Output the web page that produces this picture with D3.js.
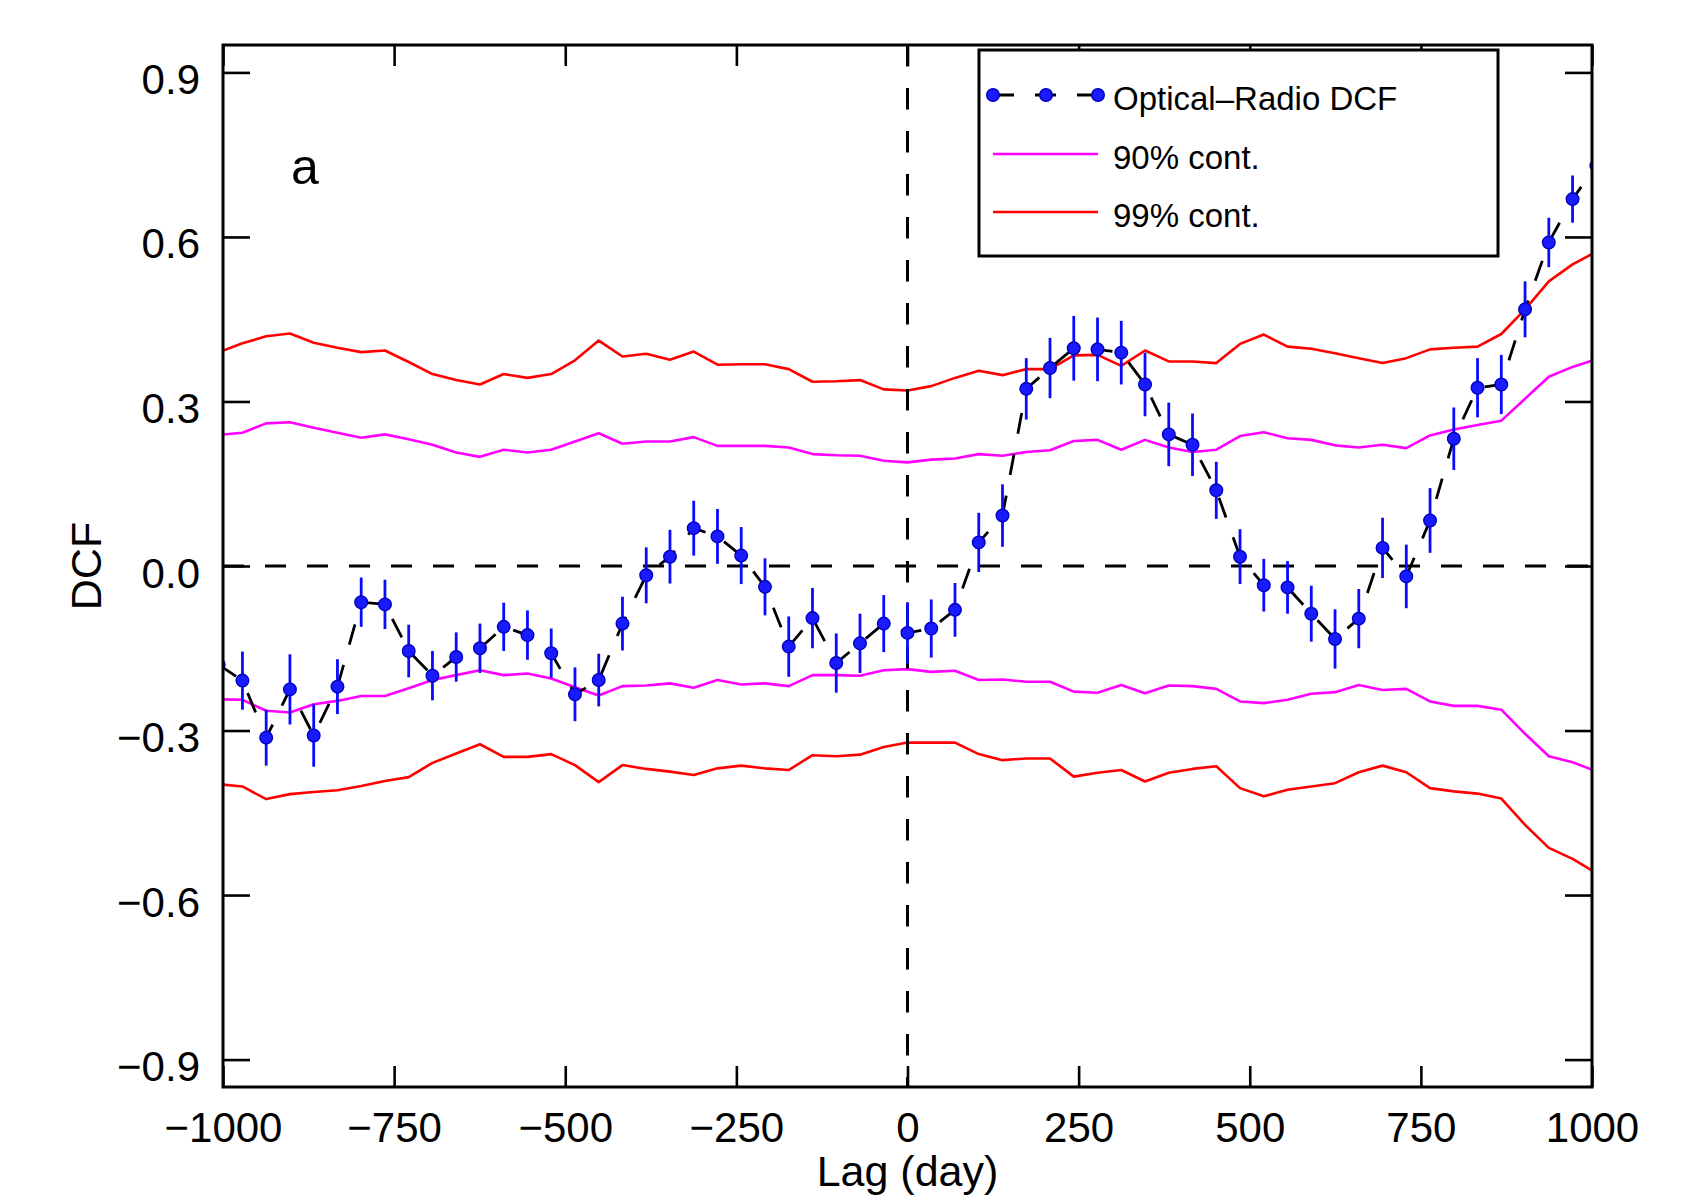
<html>
    <head>
        <title>Optical-Radio DCF</title>
        <script type="text/javascript" src="https://cdn.jsdelivr.net/npm/d3@7"></script>
        <style type="text/css">
            body { margin: 0; background: white; }
            #chartholder { width: 1691px; height: 1196px; }
            text { font-family: "Liberation Sans", Arial, Helvetica, sans-serif; fill: black; }
        </style>
    </head>
    <body>
        <div id='chartholder'></div>

        <script type="text/javascript">

            // lag bins (days); first and last lie just outside the plotted range
            var lags = [-1006.3, -971.6, -936.9, -902.2, -867.5, -832.8, -798.1, -763.4, -728.7, -694.0,
                -659.3, -624.6, -589.9, -555.2, -520.5, -485.8, -451.1, -416.4, -381.7, -347.0,
                -312.3, -277.6, -242.9, -208.2, -173.5, -138.8, -104.1, -69.4, -34.7, 0,
                34.7, 69.4, 104.1, 138.8, 173.5, 208.2, 242.9, 277.6, 312.3, 347.0,
                381.7, 416.4, 451.1, 485.8, 520.5, 555.2, 589.9, 624.6, 659.3, 694.0,
                728.7, 763.4, 798.1, 832.8, 867.5, 902.2, 936.9, 971.6, 1006.3];

            var dcf = [-0.18, -0.209, -0.313, -0.225, -0.309, -0.220, -0.066, -0.070, -0.155, -0.200,
                -0.166, -0.150, -0.111, -0.126, -0.159, -0.234, -0.208, -0.105, -0.017, 0.017,
                0.069, 0.054, 0.019, -0.038, -0.147, -0.095, -0.177, -0.141, -0.105, -0.122,
                -0.114, -0.080, 0.043, 0.092, 0.323, 0.361, 0.397, 0.395, 0.389, 0.331,
                0.240, 0.221, 0.138, 0.017, -0.035, -0.039, -0.087, -0.133, -0.096, 0.033,
                -0.019, 0.083, 0.232, 0.325, 0.331, 0.468, 0.590, 0.669, 0.73];

            var dcfErr = [0.05, 0.053, 0.051, 0.064, 0.057, 0.050, 0.045, 0.045, 0.048, 0.045,
                0.045, 0.045, 0.044, 0.045, 0.045, 0.049, 0.048, 0.049, 0.051, 0.049,
                0.050, 0.050, 0.052, 0.052, 0.055, 0.055, 0.054, 0.054, 0.052, 0.056,
                0.053, 0.049, 0.054, 0.057, 0.056, 0.055, 0.059, 0.058, 0.058, 0.058,
                0.058, 0.057, 0.052, 0.050, 0.048, 0.048, 0.051, 0.054, 0.054, 0.055,
                0.058, 0.059, 0.057, 0.054, 0.054, 0.051, 0.045, 0.043, 0.05];

            var cont99Upper = [0.390, 0.406, 0.419, 0.424, 0.407, 0.398, 0.390, 0.393, 0.372, 0.350,
                0.339, 0.331, 0.350, 0.343, 0.350, 0.375, 0.411, 0.382, 0.387, 0.376,
                0.391, 0.367, 0.368, 0.368, 0.359, 0.336, 0.337, 0.339, 0.322, 0.320,
                0.328, 0.343, 0.356, 0.348, 0.359, 0.359, 0.384, 0.385, 0.365, 0.393,
                0.373, 0.373, 0.370, 0.405, 0.422, 0.400, 0.396, 0.388, 0.379, 0.370,
                0.379, 0.395, 0.398, 0.400, 0.423, 0.468, 0.519, 0.550, 0.573];

            var cont90Upper = [0.239, 0.243, 0.260, 0.262, 0.252, 0.243, 0.234, 0.240, 0.231, 0.221,
                0.207, 0.199, 0.212, 0.207, 0.212, 0.227, 0.242, 0.223, 0.227, 0.227,
                0.235, 0.219, 0.219, 0.219, 0.216, 0.204, 0.202, 0.201, 0.192, 0.189,
                0.194, 0.196, 0.204, 0.201, 0.208, 0.211, 0.228, 0.230, 0.212, 0.230,
                0.216, 0.208, 0.212, 0.237, 0.244, 0.233, 0.230, 0.220, 0.216, 0.221,
                0.215, 0.238, 0.249, 0.257, 0.265, 0.305, 0.345, 0.363, 0.377];

            var cont90Lower = [-0.243, -0.244, -0.264, -0.267, -0.252, -0.246, -0.237, -0.237, -0.223, -0.208,
                -0.199, -0.190, -0.199, -0.196, -0.205, -0.221, -0.236, -0.219, -0.218, -0.214,
                -0.222, -0.208, -0.216, -0.214, -0.219, -0.199, -0.199, -0.200, -0.190, -0.188,
                -0.193, -0.191, -0.208, -0.207, -0.211, -0.211, -0.229, -0.231, -0.217, -0.232,
                -0.218, -0.219, -0.224, -0.247, -0.250, -0.244, -0.233, -0.230, -0.217, -0.226,
                -0.224, -0.247, -0.255, -0.255, -0.262, -0.306, -0.347, -0.358, -0.374];

            var cont99Lower = [-0.398, -0.402, -0.425, -0.416, -0.412, -0.409, -0.401, -0.392, -0.385, -0.359,
                -0.342, -0.325, -0.348, -0.348, -0.343, -0.363, -0.394, -0.363, -0.370, -0.375,
                -0.381, -0.369, -0.364, -0.369, -0.372, -0.345, -0.347, -0.344, -0.330, -0.322,
                -0.322, -0.322, -0.343, -0.354, -0.351, -0.351, -0.384, -0.377, -0.372, -0.393,
                -0.377, -0.370, -0.365, -0.405, -0.420, -0.408, -0.402, -0.396, -0.376, -0.364,
                -0.376, -0.405, -0.411, -0.415, -0.424, -0.472, -0.514, -0.534, -0.560];

            var xTicks = [-1000, -750, -500, -250, 0, 250, 500, 750, 1000];
            var yTicks = [-0.9, -0.6, -0.3, 0.0, 0.3, 0.6, 0.9];

            var legendLabels = ['Optical\u2013Radio DCF', '90% cont.', '99% cont.'];

            function fmtY(d) {
                return (d < 0 ? '\u2212' : '') + Math.abs(d).toFixed(1);
            }
            function fmtX(d) {
                return (d < 0 ? '\u2212' : '') + Math.abs(d);
            }

            function makeChart() {
                var width = 1691, height = 1196;
                var plot = {left: 223, right: 1592, top: 45, bottom: 1087};

                var svg = d3.select('#chartholder')
                    .append('svg')
                        .attr('width', width)
                        .attr('height', height);

                svg.append('rect').attr('width', width).attr('height', height).attr('fill', 'white');

                var xScale = d3.scaleLinear().domain([-1000, 1000]).range([plot.left, plot.right]);
                var yScale = d3.scaleLinear().domain([-0.95, 0.95]).range([plot.bottom, plot.top]);

                svg.append('clipPath').attr('id', 'plotclip')
                    .append('rect')
                        .attr('x', plot.left).attr('y', plot.top)
                        .attr('width', plot.right - plot.left).attr('height', plot.bottom - plot.top);

                var canvas = svg.append('g').attr('clip-path', 'url(#plotclip)');

                function contLine(values) {
                    return d3.line()
                        .x(function(d, i) { return xScale(lags[i]); })
                        .y(function(d) { return yScale(d); })(values);
                }

                var contours = [
                    {values: cont90Upper, color: '#ff00ff'},
                    {values: cont90Lower, color: '#ff00ff'},
                    {values: cont99Upper, color: '#ff0000'},
                    {values: cont99Lower, color: '#ff0000'}
                ];

                canvas.selectAll('path.cont')
                    .data(contours)
                    .enter().append('path')
                        .attr('class', 'cont')
                        .attr('d', function(c) { return contLine(c.values); })
                        .attr('fill', 'none')
                        .attr('stroke', function(c) { return c.color; })
                        .attr('stroke-width', 2.6)
                        .attr('stroke-linejoin', 'round');

                // zero lines
                canvas.append('line')
                    .attr('x1', xScale(-1000)).attr('x2', xScale(1000))
                    .attr('y1', yScale(0)).attr('y2', yScale(0))
                    .attr('stroke', 'black').attr('stroke-width', 3)
                    .attr('stroke-dasharray', '21,21');

                canvas.append('line')
                    .attr('x1', xScale(0)).attr('x2', xScale(0))
                    .attr('y1', plot.top).attr('y2', plot.bottom)
                    .attr('stroke', 'black').attr('stroke-width', 3)
                    .attr('stroke-dasharray', '21.5,21.5');

                var points = lags.map(function(l, i) {
                    return {lag: l, v: dcf[i], e: dcfErr[i]};
                });

                canvas.append('path')
                    .attr('d', d3.line()
                        .x(function(d) { return xScale(d.lag); })
                        .y(function(d) { return yScale(d.v); })(points))
                    .attr('fill', 'none')
                    .attr('stroke', 'black')
                    .attr('stroke-width', 2.8)
                    .attr('stroke-dasharray', '21,21');

                canvas.selectAll('line.err')
                    .data(points)
                    .enter().append('line')
                        .attr('class', 'err')
                        .attr('x1', function(d) { return xScale(d.lag); })
                        .attr('x2', function(d) { return xScale(d.lag); })
                        .attr('y1', function(d) { return yScale(d.v - d.e); })
                        .attr('y2', function(d) { return yScale(d.v + d.e); })
                        .attr('stroke', '#0a0aff')
                        .attr('stroke-width', 2.8);

                canvas.selectAll('circle.dcf')
                    .data(points)
                    .enter().append('circle')
                        .attr('class', 'dcf')
                        .attr('cx', function(d) { return xScale(d.lag); })
                        .attr('cy', function(d) { return yScale(d.v); })
                        .attr('r', 6.3)
                        .attr('fill', '#1a1aff')
                        .attr('stroke', '#0000c0')
                        .attr('stroke-width', 1.4);

                // axes: ticks point inward, labels only on left and bottom
                function styleAxis(g) {
                    g.select('.domain').remove();
                    g.selectAll('.tick line').attr('stroke', 'black').attr('stroke-width', 2.6);
                    g.selectAll('.tick text')
                        .style('font-family', '"Liberation Sans", Arial, sans-serif')
                        .style('font-size', '42px')
                        .attr('fill', 'black');
                }

                svg.append('g')
                    .attr('transform', 'translate(' + plot.left + ',0)')
                    .call(d3.axisLeft(yScale).tickValues(yTicks).tickFormat(fmtY)
                        .tickSizeInner(-27).tickSizeOuter(0).tickPadding(23))
                    .call(styleAxis)
                    .call(function(g) { g.selectAll('.tick text').attr('dy', '0.5em'); });

                svg.append('g')
                    .attr('transform', 'translate(' + plot.right + ',0)')
                    .call(d3.axisRight(yScale).tickValues(yTicks).tickFormat('')
                        .tickSizeInner(-27).tickSizeOuter(0))
                    .call(styleAxis);

                svg.append('g')
                    .attr('transform', 'translate(0,' + plot.bottom + ')')
                    .call(d3.axisBottom(xScale).tickValues(xTicks).tickFormat(fmtX)
                        .tickSizeInner(-21).tickSizeOuter(0).tickPadding(25))
                    .call(styleAxis);

                svg.append('g')
                    .attr('transform', 'translate(0,' + plot.top + ')')
                    .call(d3.axisTop(xScale).tickValues(xTicks).tickFormat('')
                        .tickSizeInner(-21).tickSizeOuter(0))
                    .call(styleAxis);

                svg.append('rect')
                    .attr('x', plot.left).attr('y', plot.top)
                    .attr('width', plot.right - plot.left).attr('height', plot.bottom - plot.top)
                    .attr('fill', 'none').attr('stroke', 'black').attr('stroke-width', 3);

                // axis titles
                svg.append('text')
                    .attr('x', xScale(0)).attr('y', 1186)
                    .attr('text-anchor', 'middle')
                    .style('font-size', '43px')
                    .text('Lag (day)');

                svg.append('text')
                    .attr('transform', 'translate(101,' + yScale(0) + ') rotate(-90)')
                    .attr('text-anchor', 'middle')
                    .style('font-size', '43px')
                    .text('DCF');

                svg.append('text')
                    .attr('x', 291).attr('y', 184)
                    .style('font-size', '50px')
                    .text('a');

                // legend
                var legend = svg.append('g');
                legend.append('rect')
                    .attr('x', 979).attr('y', 50).attr('width', 519).attr('height', 206)
                    .attr('fill', 'white').attr('stroke', 'black').attr('stroke-width', 3);

                var rowY = [95, 154, 212];
                legend.append('line')
                    .attr('x1', 993).attr('x2', 1098).attr('y1', rowY[0]).attr('y2', rowY[0])
                    .attr('stroke', 'black').attr('stroke-width', 2.8)
                    .attr('stroke-dasharray', '21,21');
                legend.selectAll('circle')
                    .data([993, 1046, 1098])
                    .enter().append('circle')
                        .attr('cx', function(d) { return d; })
                        .attr('cy', rowY[0])
                        .attr('r', 6.3)
                        .attr('fill', '#1a1aff')
                        .attr('stroke', '#0000c0')
                        .attr('stroke-width', 1.4);
                legend.append('line')
                    .attr('x1', 993).attr('x2', 1098).attr('y1', rowY[1]).attr('y2', rowY[1])
                    .attr('stroke', '#ff00ff').attr('stroke-width', 2.6);
                legend.append('line')
                    .attr('x1', 993).attr('x2', 1098).attr('y1', rowY[2]).attr('y2', rowY[2])
                    .attr('stroke', '#ff0000').attr('stroke-width', 2.6);

                legend.selectAll('text')
                    .data(legendLabels)
                    .enter().append('text')
                        .attr('x', 1113)
                        .attr('y', function(d, i) { return rowY[i] + 15; })
                        .style('font-size', '33px')
                        .text(function(d) { return d; });
            }

            makeChart();

        </script>
    </body>
</html>
